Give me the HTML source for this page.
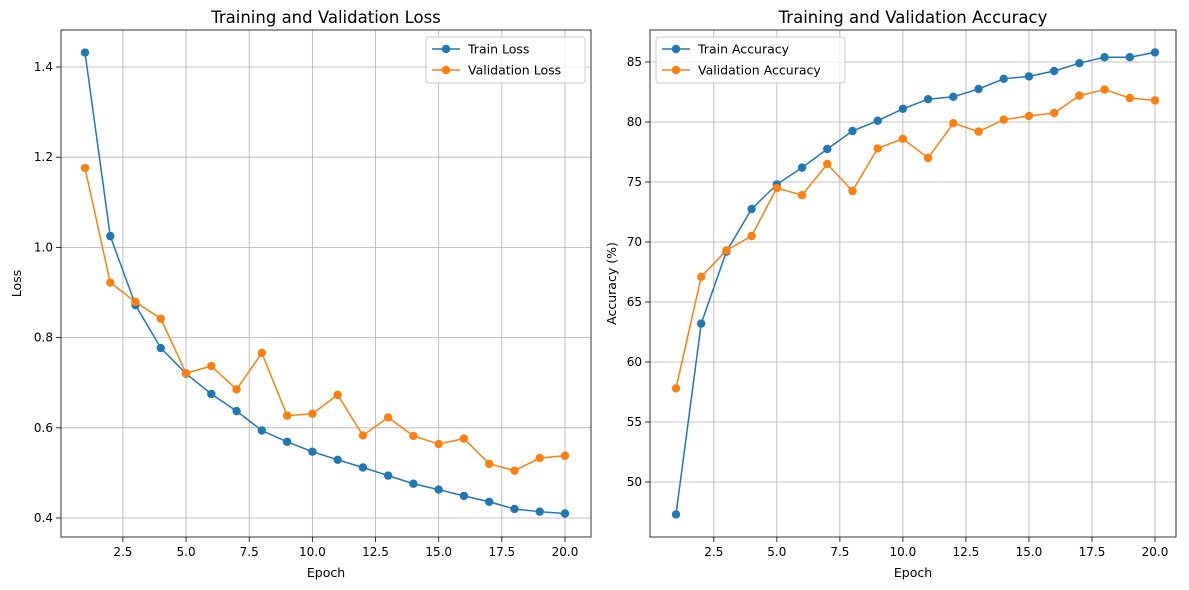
<!DOCTYPE html>
<html><head><meta charset="utf-8"><style>
html,body{margin:0;padding:0;background:#fff;}
svg{display:block;font-family:"DejaVu Sans","Liberation Sans",sans-serif;}
</style></head><body>
<svg id="c" width="1189" height="590" viewBox="0 0 1189 590"></svg>
<script>
const epochs=[1,2,3,4,5,6,7,8,9,10,11,12,13,14,15,16,17,18,19,20];
const trainLoss=[1.432,1.025,0.872,0.777,0.720,0.675,0.637,0.594,0.569,0.547,0.529,0.512,0.494,0.476,0.463,0.449,0.436,0.420,0.414,0.410];
const valLoss=[1.176,0.922,0.879,0.842,0.721,0.737,0.685,0.766,0.627,0.631,0.673,0.583,0.623,0.582,0.564,0.576,0.520,0.505,0.533,0.538];
const trainAcc=[47.3,63.2,69.2,72.75,74.8,76.2,77.75,79.25,80.1,81.1,81.9,82.1,82.75,83.6,83.8,84.25,84.9,85.4,85.4,85.8];
const valAcc=[57.8,67.1,69.3,70.5,74.5,73.9,76.5,74.25,77.8,78.6,77.0,79.9,79.2,80.2,80.5,80.75,82.2,82.7,82.0,81.8];
const xTicks=[2.5,5.0,7.5,10.0,12.5,15.0,17.5,20.0];
const lossTicks=[0.4,0.6,0.8,1.0,1.2,1.4];
const accTicks=[50,55,60,65,70,75,80,85];
const NS="http://www.w3.org/2000/svg";
const svg=document.getElementById('c');
function el(t,a,p){const e=document.createElementNS(NS,t);for(const k in a)e.setAttribute(k,a[k]);(p||svg).appendChild(e);return e;}
function panel(cfg){
  const g=el('g',{});
  
  
  const L=cfg.L,R=cfg.R,T=30,B=537;
  const xs=v=>cfg.x1px+(v-1)*(cfg.x20px-cfg.x1px)/19;
  const ys=v=>cfg.y0px+(v-cfg.y0)*(cfg.y1px-cfg.y0px)/(cfg.y1-cfg.y0);
  xTicks.forEach(v=>{const x=xs(v);
    const gl=el('line',{x1:x,x2:x,y1:T,y2:B,stroke:'#b0b0b0','stroke-width':0.8},g);
    
    el('line',{x1:x,x2:x,y1:B,y2:B+5,stroke:'#000','stroke-width':0.8},g);
    const t=el('text',{x:x,y:B+19,'text-anchor':'middle','font-size':12},g);t.textContent=v.toFixed(1);
    });
  cfg.yt.forEach(v=>{const y=ys(v);
    const gl=el('line',{x1:L,x2:R,y1:y,y2:y,stroke:'#b0b0b0','stroke-width':0.8},g);
    
    el('line',{x1:L-5,x2:L,y1:y,y2:y,stroke:'#000','stroke-width':0.8},g);
    const t=el('text',{x:L-8,y:y+4,'text-anchor':'end','font-size':12},g);t.textContent=cfg.fmt(v);
    });
  [[cfg.s1,'#1f77b4',cfg.n1],[cfg.s2,'#ff7f0e',cfg.n2]].forEach(([s,c,n])=>{
    const pts=s.map((v,i)=>xs(epochs[i])+','+ys(v)).join(' ');
    const pl=el('polyline',{points:pts,fill:'none',stroke:c,'stroke-width':1.5},g);
    
    s.forEach((v,i)=>{const m=el('circle',{cx:xs(epochs[i]),cy:ys(v),r:4.2,fill:c},g);
      });
  });
  const fr=el('rect',{x:L,y:T,width:R-L,height:B-T,fill:'none',stroke:'#000','stroke-width':0.8},g);
  
  const tt=el('text',{x:(L+R)/2,y:23,'text-anchor':'middle','font-size':16.5},g);tt.textContent=cfg.title;
  
  const xl=el('text',{x:(L+R)/2,y:577,'text-anchor':'middle','font-size':12.5},g);xl.textContent='Epoch';
  
  const yl=el('text',{x:0,y:0,'text-anchor':'middle','font-size':12.5,transform:`translate(${cfg.ylx},${(T+B)/2}) rotate(-90)`},g);yl.textContent=cfg.ylabel;
  
  const lg=el('g',{},g);
  el('rect',{x:cfg.lx,y:37,width:cfg.lw,height:46,rx:3,fill:'#fff','fill-opacity':0.8,stroke:'#ccc'},lg);
  [[cfg.l1,'#1f77b4'],[cfg.l2,'#ff7f0e']].forEach(([lab,c],i)=>{const y=49+i*21;
    el('line',{x1:cfg.lx+6,x2:cfg.lx+34,y1:y,y2:y,stroke:c,'stroke-width':1.5},lg);
    el('circle',{cx:cfg.lx+20,cy:y,r:4.2,fill:c},lg);
    const t=el('text',{x:cfg.lx+42,y:y+4.5,'font-size':12.5},lg);t.textContent=lab;
    });
}
panel({name:'loss-chart',L:61,R:591,x1px:85,x20px:565,y0:0.4,y0px:518,y1:1.4,y1px:67,yt:lossTicks,fmt:v=>v.toFixed(1),
  s1:trainLoss,s2:valLoss,n1:'train-loss',n2:'validation-loss',title:'Training and Validation Loss',ylabel:'Loss',ylx:21,
  lx:426,lw:159,l1:'Train Loss',l2:'Validation Loss'});
panel({name:'accuracy-chart',L:650,R:1176,x1px:676,x20px:1155,y0:50,y0px:482,y1:85,y1px:62,yt:accTicks,fmt:v=>String(v),
  s1:trainAcc,s2:valAcc,n1:'train-accuracy',n2:'validation-accuracy',title:'Training and Validation Accuracy',ylabel:'Accuracy (%)',ylx:616,
  lx:656,lw:189,l1:'Train Accuracy',l2:'Validation Accuracy'});
</script>
</body></html>
